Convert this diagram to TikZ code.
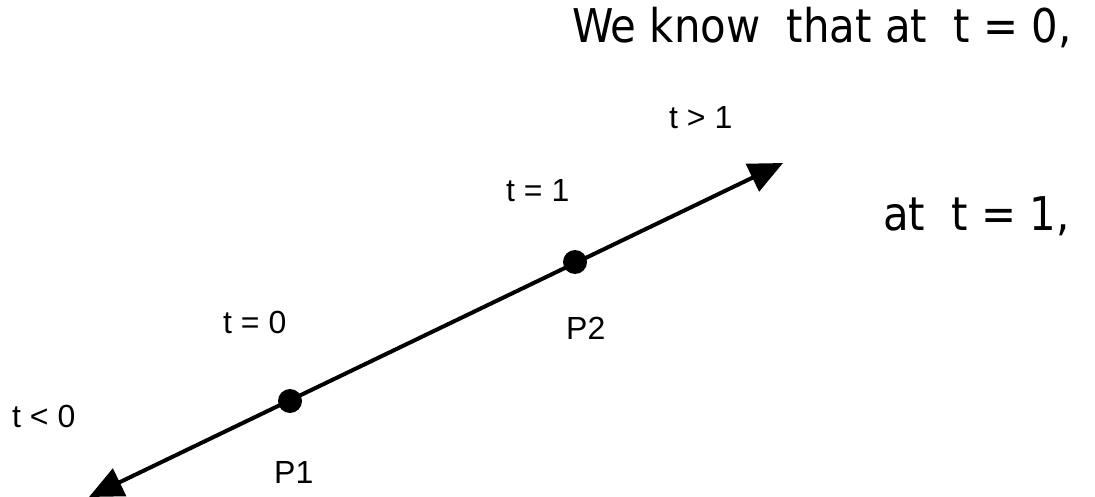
\documentclass[tikz,border=0pt]{standalone}
\usepackage{fontspec}
\setmainfont{Liberation Sans}
\newfontfamily\bigfont{DejaVu Sans Condensed}
\usetikzlibrary{arrows.meta}
\tikzset{
  lbl/.style={anchor=base west, inner sep=0pt, font=\fontsize{32}{38}\selectfont},
  big/.style={anchor=base west, inner sep=0pt, font=\bigfont\fontsize{46.5}{54}\selectfont},
  dot/.style={circle, fill=black, inner sep=0pt, minimum size=24pt},
  ray/.style={line width=4pt, {Triangle[length=34pt,width=30pt]}-{Triangle[length=34pt,width=30pt]}}
}
\begin{document}
\begin{tikzpicture}[x=1pt,y=-1pt]
\useasboundingbox (0,0) rectangle (1095,497);
\coordinate (S) at (89,497);
\coordinate (E) at (783,163);
\draw[ray] (S) -- (E);
\node[dot] (P1) at (290,401) {};
\node[dot] (P2) at (575,262) {};
\node[lbl] (l1) at (669,129) {t > 1};
\node[lbl] (l2) at (506,202) {t = 1};
\node[lbl] (l3) at (223,333) {t = 0};
\node[lbl] (l4) at (12,427) {t < 0};
\node[lbl] (n2) at (566,339) {P2};
\node[lbl] (n1) at (274,483) {P1};
\node[big] (q1) at (572,43) {We know\ \ that at\ \ t = 0,};
\node[big] (q2) at (883,231) {at\ \ t = 1,};
\end{tikzpicture}
\end{document}
